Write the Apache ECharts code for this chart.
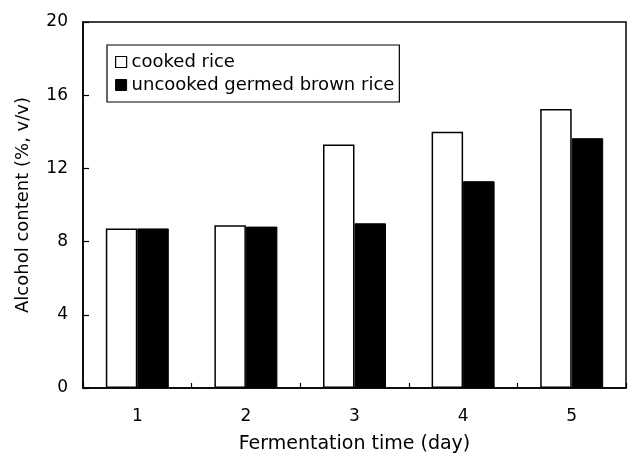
<!DOCTYPE html>
<html>
<head>
<meta charset="utf-8">
<script src="https://cdn.jsdelivr.net/npm/echarts@6/dist/echarts.min.js"></script>
<style>
html,body{margin:0;padding:0;background:#fff;}
#chart{width:632px;height:459px;}
</style>
</head>
<body>
<div id="chart"></div>
<script>
var categories = ['1', '2', '3', '4', '5'];
var cookedRice = [8.72, 8.9, 13.3, 14.0, 15.25];
var uncookedGermedBrownRice = [8.72, 8.82, 9.0, 11.3, 13.65];
var seriesNames = ['cooked rice', 'uncooked germed brown rice'];
var yTicks = { min: 0, max: 20, interval: 4 };
var xAxisTitle = 'Fermentation time (day)';
var yAxisTitle = 'Alcohol content (%, v/v)';

var FONT = 'DejaVu Sans';
var chart = echarts.init(document.getElementById('chart'), null, { renderer: 'canvas' });
chart.setOption({
  backgroundColor: '#ffffff',
  animation: false,
  grid: {
    left: 83, right: 6, top: 22, bottom: 70,
    show: true, borderColor: '#000', borderWidth: 1.5, backgroundColor: 'transparent'
  },
  legend: {
    orient: 'vertical',
    left: 107, top: 45,
    padding: [8, 5, 8, 8],
    itemGap: 5,
    itemWidth: 11, itemHeight: 11,
    itemTextGap: 11,
    borderColor: '#000', borderWidth: 1.2,
    textStyle: { fontFamily: FONT, fontSize: 18, color: '#000' },
    data: [
      { name: seriesNames[0], icon: 'rect', itemStyle: { color: '#fff', borderColor: '#000', borderWidth: 1.2 } },
      { name: seriesNames[1], icon: 'rect', itemStyle: { color: '#000', borderColor: '#000', borderWidth: 1 } }
    ]
  },
  xAxis: {
    type: 'category',
    data: categories,
    name: xAxisTitle,
    nameLocation: 'middle',
    nameGap: 47,
    nameTextStyle: { fontFamily: FONT, fontSize: 19, color: '#000' },
    axisLine: { lineStyle: { color: '#000', width: 1.5 } },
    axisTick: { show: true, inside: true, length: 5, lineStyle: { color: '#000', width: 1.2 } },
    axisLabel: { fontFamily: FONT, fontSize: 17, color: '#000', margin: 20 },
    splitLine: { show: false }
  },
  yAxis: {
    type: 'value',
    min: yTicks.min, max: yTicks.max, interval: yTicks.interval,
    name: yAxisTitle,
    nameLocation: 'middle',
    nameGap: 51,
    nameRotate: 90,
    nameTextStyle: { fontFamily: FONT, fontSize: 18, color: '#000' },
    axisLine: { show: true, lineStyle: { color: '#000', width: 1.5 } },
    axisTick: { show: true, inside: true, length: 6, lineStyle: { color: '#000', width: 1.2 } },
    axisLabel: { fontFamily: FONT, fontSize: 17, color: '#000', margin: 15 },
    splitLine: { show: false }
  },
  series: [
    {
      name: seriesNames[0],
      type: 'bar',
      data: cookedRice,
      barGap: '0%',
      barCategoryGap: '42%',
      itemStyle: { color: '#fff', borderColor: '#000', borderWidth: 1.5 }
    },
    {
      name: seriesNames[1],
      type: 'bar',
      data: uncookedGermedBrownRice,
      barGap: '0%',
      barCategoryGap: '42%',
      itemStyle: { color: '#000', borderColor: '#000', borderWidth: 1 }
    }
  ]
});
</script>
</body>
</html>
